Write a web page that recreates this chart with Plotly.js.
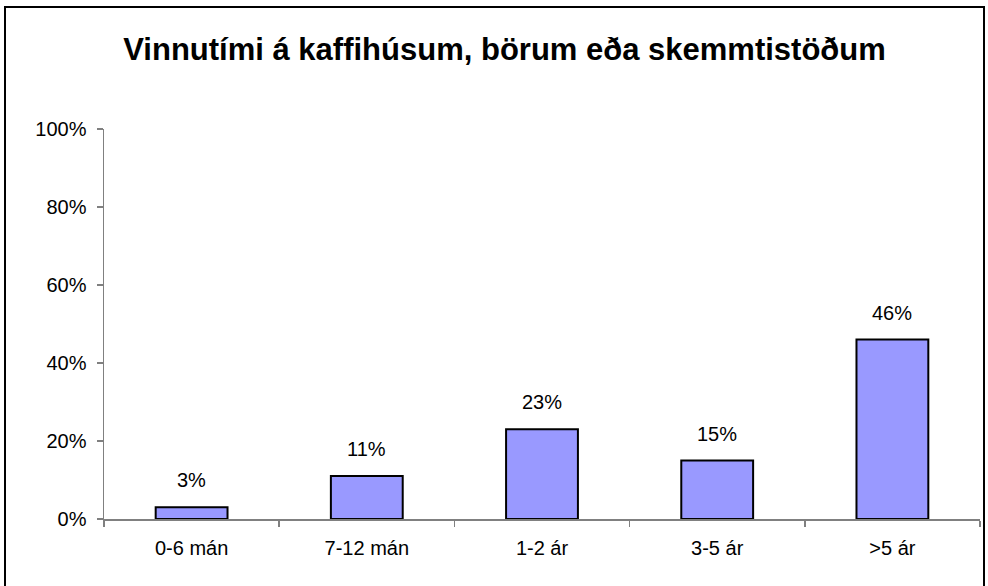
<!DOCTYPE html>
<html>
<head>
<meta charset="utf-8">
<script src="https://cdn.plot.ly/plotly-3.0.1.min.js"></script>
<style>
  html, body { margin: 0; padding: 0; background: #fff; }
  #wrap { position: relative; width: 988px; height: 586px; }
  #chart { width: 988px; height: 586px; }
  #frame { position: absolute; left: 4px; top: 6px; width: 981px; height: 590px; border: 2px solid #000; box-sizing: border-box; pointer-events: none; }
</style>
</head>
<body>
<div id="wrap">
  <div id="chart"></div>
  <div id="frame"></div>
</div>
<script>
const categories = ["0-6 mán", "7-12 mán", "1-2 ár", "3-5 ár", ">5 ár"];
const values = [0.03, 0.11, 0.23, 0.15, 0.46];
const valueLabels = ["3%", "11%", "23%", "15%", "46%"];
const yTickValues = [0, 0.2, 0.4, 0.6, 0.8, 1.0];
const yTickLabels = ["0%", "20%", "40%", "60%", "80%", "100%"];
const chartTitle = "Vinnutími á kaffihúsum, börum eða skemmtistöðum";

const font = "Arial, 'Liberation Sans', sans-serif";

const trace = {
  type: "bar",
  x: categories,
  y: values,
  width: 0.41,
  marker: { color: "#9999FF", line: { color: "#000000", width: 2 } },
  hoverinfo: "skip"
};

const annotations = categories.map((c, i) => ({
  x: c, y: values[i], text: valueLabels[i],
  xref: "x", yref: "y", showarrow: false,
  yanchor: "bottom", yshift: 14,
  font: { family: font, size: 20, color: "#000" }
}));

const layout = {
  width: 988, height: 586,
  margin: { l: 104, r: 8, t: 129, b: 67 },
  paper_bgcolor: "#fff", plot_bgcolor: "#fff",
  showlegend: false,
  title: {
    text: "<b>" + chartTitle + "</b>",
    x: 504.5/988, xanchor: "center", xref: "container",
    y: 1 - 49/586, yanchor: "middle", yref: "container",
    font: { family: font, size: 31, color: "#000" }
  },
  xaxis: {
    type: "category",
    showline: true, linecolor: "#808080", linewidth: 1.5,
    ticks: "outside", tickson: "boundaries", ticklen: 6, tickcolor: "#808080", tickwidth: 1.5,
    ticklabelstandoff: 10,
    showgrid: false, zeroline: false,
    tickfont: { family: font, size: 20, color: "#000" },
    fixedrange: true
  },
  yaxis: {
    range: [0, 1],
    tickvals: yTickValues, ticktext: yTickLabels,
    showline: true, linecolor: "#808080", linewidth: 1.5,
    ticks: "outside", ticklen: 6, tickcolor: "#808080", tickwidth: 1.5,
    ticklabelstandoff: 6,
    showgrid: false, zeroline: false,
    tickfont: { family: font, size: 20, color: "#000" },
    fixedrange: true
  },
  annotations: annotations
};

Plotly.newPlot("chart", [trace], layout, { displayModeBar: false, staticPlot: true });
</script>
</body>
</html>
